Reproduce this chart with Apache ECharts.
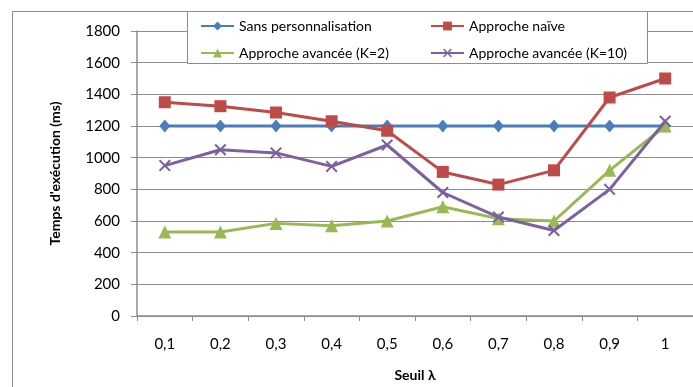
<!DOCTYPE html>
<html>
<head>
<meta charset="utf-8">
<script src="https://cdn.jsdelivr.net/npm/echarts@6/dist/echarts.min.js"></script>
<style>
html,body{margin:0;padding:0;background:#fff;}
#c{width:693px;height:387px;}
</style>
</head>
<body>
<div id="c"></div>
<script>
var categories = ['0,1','0,2','0,3','0,4','0,5','0,6','0,7','0,8','0,9','1'];
var seriesNames = ['Sans personnalisation','Approche naïve','Approche avancée (K=2)','Approche avancée (K=10)'];
var sansPerso = [1200,1200,1200,1200,1200,1200,1200,1200,1200,1200];
var naive = [1350,1325,1285,1230,1170,910,830,920,1380,1500];
var avanceeK2 = [530,530,585,570,600,690,615,600,920,1200];
var avanceeK10 = [950,1050,1030,945,1080,780,625,540,800,1230];
var yTicks = {min:0, max:1800, interval:200};

var FONT = 'Lato';
var GRID = '#8c8c8c';
var xPath = 'path://M0,1.2L1.2,0L5,3.8L8.8,0L10,1.2L6.2,5L10,8.8L8.8,10L5,6.2L1.2,10L0,8.8L3.8,5Z';
var colors = ['#4A7EBB','#BE4B48','#98B954','#7D60A0'];
var symbols = ['diamond','rect','triangle',xPath];
var sizes = [[11,13],12,13,12];
var values = [sansPerso, naive, avanceeK2, avanceeK10];

var series = seriesNames.map(function(n,i){
  return {
    name:n, type:'line', data:values[i],
    symbol:symbols[i], symbolSize:sizes[i],
    showAllSymbol:true,
    lineStyle:{color:colors[i], width:3},
    itemStyle:{color:colors[i]},
    z: 2 + (i===0?0:i),
    animation:false
  };
});

var legendPos = [[200,19],[430,19],[200,46],[430,46]];
var legends = seriesNames.map(function(n,i){
  return {
    data:[n], left:legendPos[i][0], top:legendPos[i][1], padding:0,
    itemWidth:33, itemHeight:11, itemGap:0, z:10,
    textStyle:{fontFamily:FONT, fontSize:14, color:'#000'},
    selectedMode:false
  };
});

var chart = echarts.init(document.getElementById('c'), null, {renderer:'canvas'});
chart.setOption({
  animation:false,
  backgroundColor:'#fff',
  textStyle:{fontFamily:FONT},
  grid:{left:137, top:31, width:560, bottom:68, containLabel:false},
  legend:legends,
  graphic:[
    {type:'rect', z:0, silent:true, shape:{x:12.5,y:11.5,width:720,height:420}, style:{fill:null, stroke:GRID, lineWidth:1}},
    {type:'rect', z:5, silent:true, shape:{x:187.5,y:11.5,width:460,height:52}, style:{fill:'#fff', stroke:GRID, lineWidth:1}}
  ],
  xAxis:{
    type:'category', data:categories, boundaryGap:true,
    name:'Seuil λ', nameLocation:'middle', nameGap:52,
    nameTextStyle:{fontFamily:FONT, fontSize:14, fontWeight:'bold', color:'#000'},
    axisLine:{lineStyle:{color:GRID, width:1.5}},
    axisTick:{show:true, length:5, lineStyle:{color:GRID}},
    axisLabel:{margin:21, fontFamily:FONT, fontSize:15, color:'#000'},
    splitLine:{show:false}
  },
  yAxis:{
    type:'value', min:yTicks.min, max:yTicks.max, interval:yTicks.interval,
    name:"Temps d'exécution (ms)", nameLocation:'middle', nameGap:75,
    nameTextStyle:{fontFamily:FONT, fontSize:14, fontWeight:'bold', color:'#000'},
    axisLine:{show:true, lineStyle:{color:GRID, width:1.5}},
    axisTick:{show:true, length:6, inside:false, lineStyle:{color:GRID}},
    axisLabel:{margin:17, fontFamily:FONT, fontSize:15, color:'#000', formatter:function(v){return String(v);}},
    splitLine:{show:true, lineStyle:{color:GRID, width:1}}
  },
  series:series
});
</script>
</body>
</html>
